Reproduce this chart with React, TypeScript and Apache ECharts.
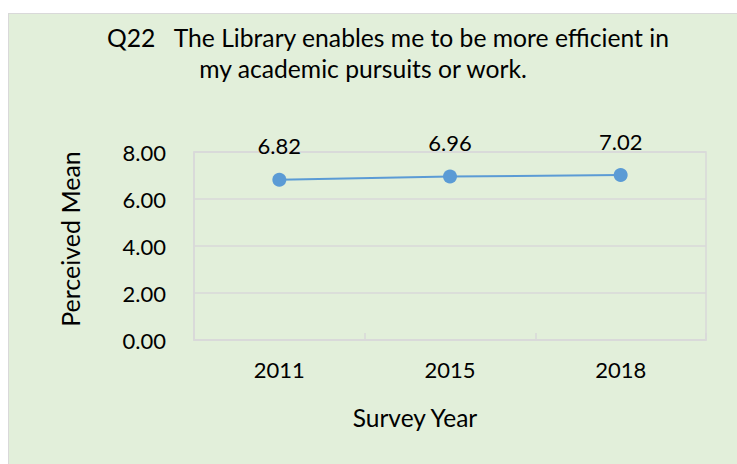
import React, { useEffect, useRef } from "react";
import * as echarts from "echarts";

const years = ["2011", "2015", "2018"];
const perceivedMean = [6.82, 6.96, 7.02];
const titleLine1 = "Q22   The Library enables me to be more efficient in";
const titleLine2 = "my academic pursuits or work.";
const yMin = 0;
const yMax = 8;
const yInterval = 2;

const FONT = "Lato, 'Open Sans', sans-serif";

export default function App() {
  const ref = useRef<HTMLDivElement>(null);
  useEffect(() => {
    if (!ref.current) return;
    const chart = echarts.init(ref.current, null, { renderer: "svg" });
    chart.setOption({
      animation: false,
      backgroundColor: "#E2EFDA",
      textStyle: { fontFamily: FONT, color: "#000" },
      graphic: [
        {
          type: "text",
          x: 379,
          y: 23,
          style: {
            text: titleLine1,
            fontFamily: FONT,
            fontSize: 24.7,
            fill: "#000",
            textAlign: "center",
            textVerticalAlign: "middle",
          },
        },
        {
          type: "text",
          x: 354,
          y: 54,
          style: {
            text: titleLine2,
            fontFamily: FONT,
            fontSize: 24.7,
            fill: "#000",
            textAlign: "center",
            textVerticalAlign: "middle",
          },
        },
      ],
      grid: {
        left: 185,
        top: 138,
        width: 512,
        height: 188,
        show: true,
        borderColor: "#D9D9D9",
        borderWidth: 1.5,
        containLabel: false,
      },
      xAxis: {
        type: "category",
        data: years,
        boundaryGap: true,
        name: "Survey Year",
        nameLocation: "middle",
        nameGap: 65,
        nameTextStyle: { fontFamily: FONT, fontSize: 24.5, color: "#000", padding: [0, 70, 0, 0] },
        axisLine: { show: true, lineStyle: { color: "#D9D9D9", width: 1.5 } },
        axisTick: { show: true, inside: true, length: 7, lineStyle: { color: "#D9D9D9", width: 1.5 } },
        axisLabel: { fontFamily: FONT, fontSize: 22, color: "#000", margin: 18 },
        splitLine: { show: false },
      },
      yAxis: {
        type: "value",
        min: yMin,
        max: yMax,
        interval: yInterval,
        name: "Perceived Mean",
        nameLocation: "middle",
        nameGap: 112,
        nameRotate: 90,
        nameTextStyle: { fontFamily: FONT, fontSize: 25, color: "#000", padding: [0, 0, 0, 14] },
        axisLine: { show: true, lineStyle: { color: "#D9D9D9", width: 1.5 } },
        axisTick: { show: false },
        axisLabel: {
          fontFamily: FONT,
          fontSize: 22,
          color: "#000",
          margin: 28,
          formatter: (v: number) => v.toFixed(2),
        },
        splitLine: { show: true, lineStyle: { color: "#D9D9D9", width: 1.5 } },
      },
      series: [
        {
          type: "line",
          data: perceivedMean,
          symbol: "circle",
          symbolSize: 14,
          itemStyle: { color: "#5B9BD5" },
          lineStyle: { color: "#5B9BD5", width: 2 },
          label: {
            show: true,
            position: "top",
            distance: 16,
            fontFamily: FONT,
            fontSize: 22,
            color: "#000",
            formatter: (p: any) => Number(p.value).toFixed(2),
          },
        },
      ],
    });
    return () => chart.dispose();
  }, []);

  return (
    <div
      style={{
        position: "fixed",
        left: 8,
        top: 13,
        width: 740,
        height: 460,
        border: "1px solid #D9D9D9",
        background: "#E2EFDA",
      }}
    >
      <div ref={ref} style={{ width: 740, height: 460 }} />
    </div>
  );
}
